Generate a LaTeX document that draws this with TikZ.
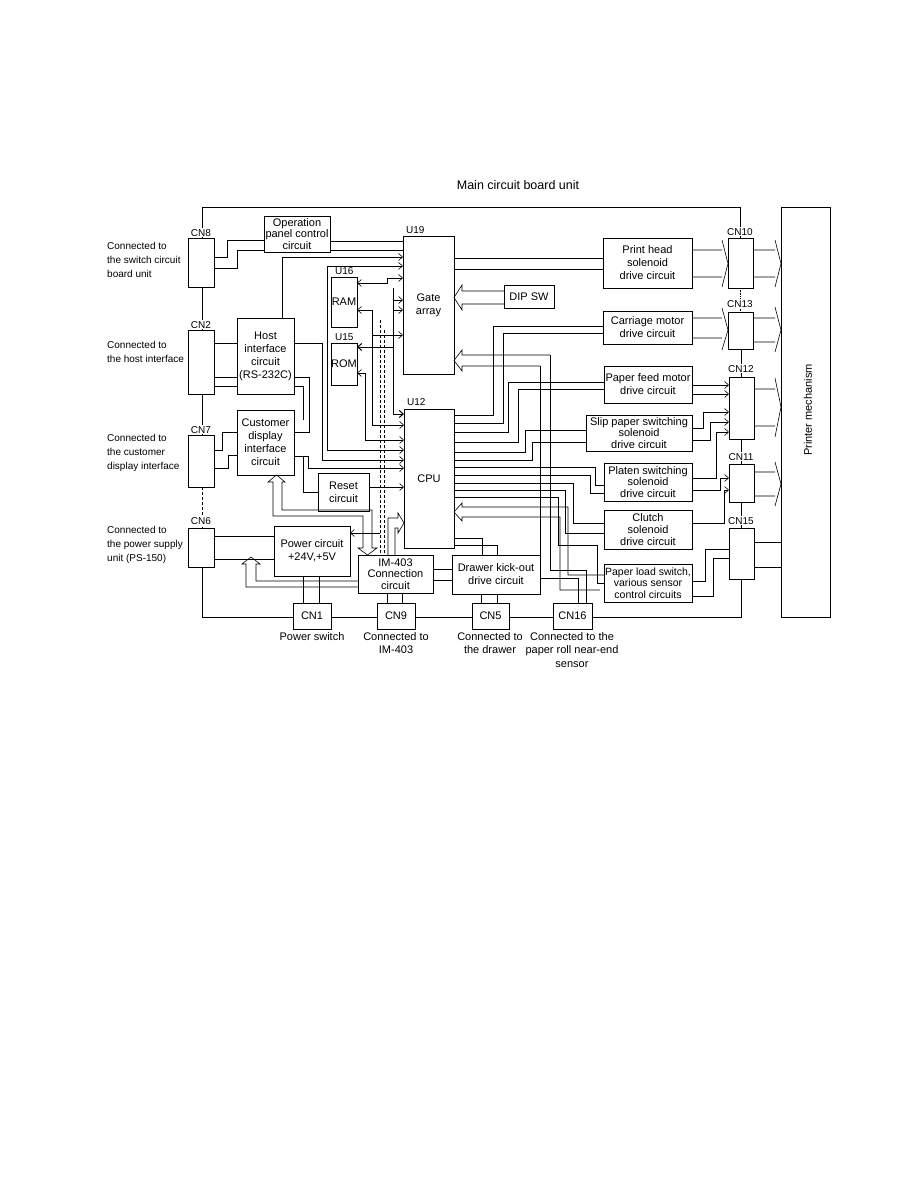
\documentclass[tikz,border=0pt]{standalone}
\usepackage{fontspec}
\setmainfont{Liberation Sans}
\usetikzlibrary{arrows.meta,fit}
\newcommand\blk[6]{\node[box,fit={(#2,#3)(#4,#5)}](#1){};\node[txt] at (#1.center){#6};}
\newcommand\blkt[6]{\node[box,fit={(#2,#3)(#4,#5)}](#1){};\node[txt,font=\fontsize{11}{11.6}\selectfont] at (#1.center){#6};}
\begin{document}
\begin{tikzpicture}[x=1pt,y=-1pt,
  box/.style={draw,line width=0.7pt,inner sep=0pt},
  txt/.style={font=\fontsize{11}{13}\selectfont,align=center,inner sep=0pt},
  lbl/.style={font=\fontsize{10}{14}\selectfont,align=left,inner sep=0pt,anchor=north west},
  blbl/.style={font=\fontsize{11}{13.5}\selectfont,align=center,inner sep=0pt,anchor=north},
  cnl/.style={font=\fontsize{10}{12}\selectfont,inner sep=1pt,anchor=base,fill=white},
  ar/.style={-{Straight Barb[length=4pt,width=7pt]}},
  wire/.style={line width=0.6pt}]
\useasboundingbox (0,0) rectangle (918,1188);
% title
\node[font=\fontsize{12.5}{14}\selectfont,anchor=base,inner sep=0pt] (title) at (518,189) {Main circuit board unit};
\begin{scope}[wire]
% board outline
\draw (202,238) -- (202,207) -- (740.5,207) -- (740.5,238);
\draw (202,287) -- (202,330);
\draw (202,394) -- (202,435);
\draw[densely dashed] (202,487) -- (202,528);
\draw (202,567) -- (202,617) -- (293,617);
\draw (331,617) -- (377,617);
\draw (415,617) -- (472,617);
\draw (509,617) -- (553,617);
\draw (592,617) -- (741.5,617) -- (741.5,579);
\draw[densely dotted] (740.5,288) -- (740.5,312);
\draw (741,349) -- (741,377);
\draw (741.5,439) -- (741.5,464);
\draw (741.5,502) -- (741.5,528);
\end{scope}
% blocks
\blkt{op}{264}{216}{330}{252}{Operation\\panel control\\circuit}
\blk{host}{237}{318}{294}{394}{Host\\interface\\circuit\\(RS-232C)}
\blk{cust}{237}{410}{294}{475}{Customer\\display\\interface\\circuit}
\blk{reset}{318}{473}{369}{511}{Reset\\circuit}
\blk{power}{274}{526}{350}{576}{Power circuit\\+24V,+5V}
\blkt{im}{358}{555}{433}{593}{IM-403\\Connection\\circuit}
\blk{drawer}{452}{555}{540}{594}{Drawer kick-out\\drive circuit}
\blk{gate}{403}{236}{454}{374}{Gate\\array}
\blk{cpu}{404}{409}{454}{548}{CPU}
\blk{ram}{331}{277}{357}{327}{RAM}
\blk{rom}{331}{343}{357}{385}{ROM}
\blk{dip}{504}{285}{554}{308}{DIP SW}
\blk{ph}{603}{238}{692}{288}{Print head\\solenoid\\drive circuit}
\blk{cm}{603}{311}{692}{344}{Carriage motor\\drive circuit}
\blk{pf}{604}{366}{692}{403}{Paper feed motor\\drive circuit}
\blkt{slip}{586}{415}{692}{451}{Slip paper switching\\solenoid\\drive circuit}
\blkt{platen}{604}{463}{692}{501}{Platen switching\\solenoid\\drive circuit}
\blkt{clutch}{604}{510}{692}{549}{Clutch\\solenoid\\drive circuit}
\node[box,fit={(604,564)(692,602)}](pload){};
\node[txt,font=\fontsize{10.5}{11.6}\selectfont] at (pload.center){Paper load switch,\\various sensor\\control circuits};
\node[box,fit={(781,207)(830,617)}](pm){};
\node[txt,rotate=90] at (808,410){Printer mechanism};
% connectors
\blk{cn8}{188}{238}{214}{287}{}
\blk{cn2}{188}{330}{214}{394}{}
\blk{cn7}{188}{435}{214}{487}{}
\blk{cn6}{188}{528}{214}{567}{}
\blk{cn10}{728}{238}{753}{288}{}
\blk{cn13}{728}{312}{753}{349}{}
\blk{cn12}{729}{377}{754}{439}{}
\blk{cn11}{729}{464}{754}{502}{}
\blk{cn15}{729}{528}{754}{579}{}
\blk{cn1}{293}{603}{331}{629}{CN1}
\blk{cn9}{377}{603}{415}{629}{CN9}
\blk{cn5}{472}{603}{509}{629}{CN5}
\blk{cn16}{553}{603}{592}{629}{CN16}
\node[cnl] at (201,236){CN8};
\node[cnl] at (201,328){CN2};
\node[cnl] at (201,433){CN7};
\node[cnl] at (201,524){CN6};
\node[cnl] at (740,235){CN10};
\node[cnl] at (740,307){CN13};
\node[cnl] at (741,372){CN12};
\node[cnl] at (741,460){CN11};
\node[cnl] at (741,524){CN15};
\node[cnl,anchor=base west,fill=none] at (405,233){U19};
\node[cnl,anchor=base west,fill=none] at (406,405){U12};
\node[cnl,anchor=base west,fill=none] at (334,274){U16};
\node[cnl,anchor=base west,fill=none] at (334,340){U15};
% left labels
\node[lbl] at (107,242){Connected to\\the switch circuit\\board unit};
\node[lbl] at (107,341){Connected to\\the host interface};
\node[lbl] at (107,434){Connected to\\the customer\\display interface};
\node[lbl] at (107,526){Connected to\\the power supply\\unit (PS-150)};
% bottom labels
\node[blbl] at (312,632){Power switch};
\node[blbl] at (396,632){Connected to\\IM-403};
\node[blbl] at (490,632){Connected to\\the drawer};
\node[blbl] at (572,632){Connected to the\\paper roll near-end\\sensor};
\begin{scope}[wire]
% CN8 - operation panel - gate array
\draw (214,257)--(227,257)--(227,240)--(264,240);
\draw (214,268)--(237,268)--(237,250)--(264,250);
\draw (330,241)--(403,241);
\draw (330,250)--(403,250);
\draw[ar] (282,318)--(282,257)--(403,257);
\draw[ar] (327,266)--(403,266);
\draw[ar] (327,266)--(327,450)--(404,450);
% CN2 - host
\draw (214,343)--(237,343);
\draw (214,377)--(237,377);
\draw (214,386)--(237,386);
\draw[ar] (294,343)--(322,343)--(322,460)--(404,460);
\draw (294,377)--(309,377)--(309,432)--(294,432);
\draw (294,386)--(303,386)--(303,420);
% CN7 - customer display
\draw (214,450)--(222,450)--(222,432)--(237,432);
\draw (214,468)--(228,468)--(228,455)--(237,455);
\draw[ar] (294,456)--(308,456)--(308,468)--(404,468);
\draw (303,456)--(303,492)--(318,492);
\draw[ar] (369,487)--(404,487);
% memory bus
\draw[<->,>={Straight Barb[length=4pt,width=7pt]}] (357,283)--(387,283)--(387,278)--(403,278);
\draw[ar,line width=1pt] (393,288)--(393,414)--(404,414);
\draw[ar] (393,300)--(403,300);
\draw[ar] (393,310)--(403,310);
\draw[ar,line width=1pt] (393,347)--(357,347);
\draw[ar] (372,310)--(357,310);
\draw[ar] (372,310)--(372,425)--(404,425);
\draw[ar] (372,335)--(403,335);
\draw[ar] (365,373)--(357,373);
\draw[ar] (365,373)--(365,440)--(404,440);
\draw[densely dashed] (380,320)--(380,555);
\draw[densely dashed] (384,330)--(384,555);
\draw[ar] (380,533)--(350,533);
% CN6 - power
\draw (214,536)--(274,536);
\draw (214,559)--(274,559);
\draw (358,581)--(256,581)--(256,564)--(260,564)--(251,557)--(242,564)--(246,564)--(246,587)--(358,587);
\draw (303,576)--(303,603);
\draw (319,576)--(319,603);
% customer display <-> IM-403
\draw (363,548)--(363,516)--(273,516)--(273,482)--(268,482)--(276.5,475)--(285,482)--(282,482)--(282,510)--(372,510)--(372,548)--(377,548)--(367.5,555)--(358,548)--(363,548);
% IM-403 <-> CPU
\draw (388,555)--(388,518)--(398,518)--(398,513)--(404,523)--(398,533)--(398,528)--(395,528)--(395,555);
\draw (387,593)--(387,603);
\draw (402,593)--(402,603);
\draw (433,569)--(452,569);
\draw (433,580)--(452,580);
\draw (481,594)--(481,603);
\draw (497,594)--(497,603);
\draw (454,538)--(482,538)--(482,555);
\draw (454,545)--(497,545)--(497,555);
% gate array right
\draw (454,258)--(603,258);
\draw (454,269)--(603,269);
\draw (504,291)--(462,291)--(462,285)--(454,297.5)--(462,310)--(462,304)--(504,304);
\draw (550,355)--(462,355)--(462,350)--(454,360.5)--(462,371)--(462,366)--(540,366);
\draw (540,366)--(540,578)--(578,578)--(578,603);
\draw (550,355)--(550,570)--(586,570)--(586,603);
% CPU right
\draw (454,415)--(493,415)--(493,326)--(603,326);
\draw (454,423)--(503,423)--(503,333)--(603,333);
\draw (454,432)--(508,432)--(508,382)--(604,382);
\draw (454,442)--(518,442)--(518,389)--(604,389);
\draw (454,452)--(525,452)--(525,430)--(586,430);
\draw (454,460)--(532,460)--(532,442)--(586,442);
\draw (454,467)--(595,467)--(595,485)--(604,485);
\draw (454,475)--(590,475)--(590,493)--(604,493);
\draw (454,483)--(573,483)--(573,523)--(604,523);
\draw (454,490)--(565,490)--(565,533)--(604,533);
\draw (454,497)--(558,497)--(558,545)--(597,545)--(597,583)--(604,583);
\draw (600,590)--(560,590)--(560,517)--(462,517)--(462,521)--(454,512)--(462,503)--(462,507)--(568,507)--(568,575)--(604,575);
% drive circuits -> connectors
\draw (692,250)--(722,250) (692,277)--(722,277) (722,240)--(728,263.5)--(722,287);
\draw (753,250)--(775,250) (753,277)--(775,277) (775,240)--(781,263.5)--(775,287);
\draw (692,318)--(722,318) (692,338)--(722,338) (722,308)--(728,330)--(722,350);
\draw (753,318)--(775,318) (753,342)--(775,342) (775,307)--(781,330)--(775,352);
\draw (754,389)--(775,389) (754,426)--(775,426) (775,378)--(781,407)--(775,437);
\draw (754,472)--(775,472) (754,496)--(775,496) (775,462)--(781,484)--(775,506);
\draw (754,542)--(781,542) (754,567)--(781,567);
\draw[ar] (692,385)--(729,385);
\draw[ar] (692,394)--(729,394);
\draw[ar] (692,428)--(703,428)--(703,412)--(729,412);
\draw[ar] (692,440)--(710,440)--(710,422)--(729,422);
\draw[ar] (692,478)--(716,478)--(716,432)--(729,432);
\draw[ar] (692,490)--(720,490)--(720,478)--(729,478);
\draw[ar] (692,523)--(724,523)--(724,490)--(729,490);
\draw (692,581)--(705,581)--(705,549)--(729,549);
\draw (692,596)--(713,596)--(713,558)--(729,558);
\end{scope}
\end{tikzpicture}
\end{document}
